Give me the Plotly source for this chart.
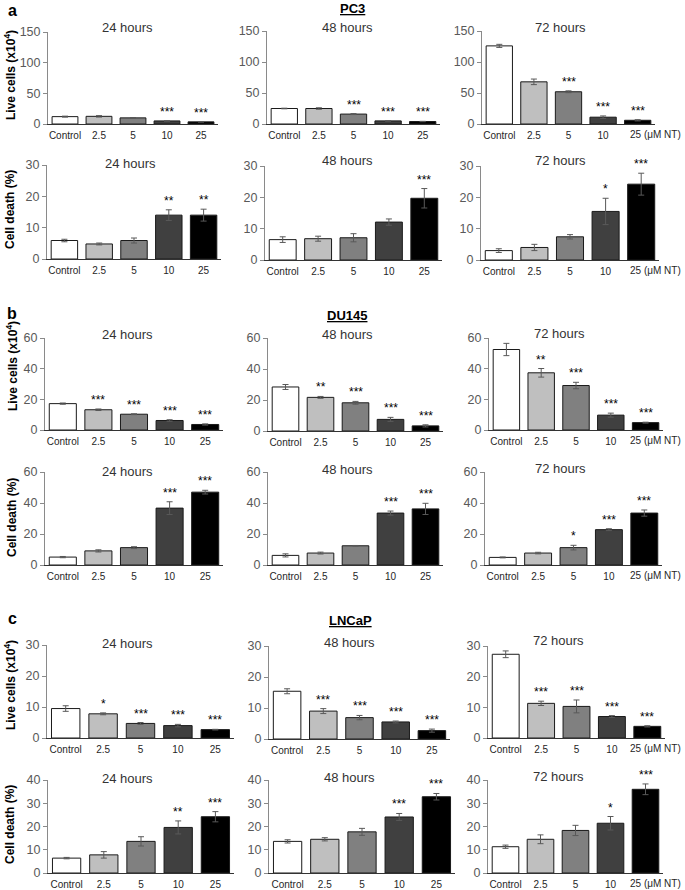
import plotly.graph_objects as go

W, H = 685, 890

categories = ["Control", "2.5", "5", "10", "25"]
bar_colors = ["#ffffff", "#bfbfbf", "#808080", "#404040", "#000000"]

# ---------------- PC3 ----------------
pc3_live_24 = [12, 12.5, 10, 5, 3.5]
pc3_live_24_err = [0.8, 1.2, 0.5, 0.4, 0.4]
pc3_live_24_sig = ["", "", "", "***", "***"]
pc3_live_48 = [25, 25, 16, 5, 4]
pc3_live_48_err = [0.5, 1.2, 0.8, 0.4, 0.3]
pc3_live_48_sig = ["", "", "***", "***", "***"]
pc3_live_72 = [126, 68, 52, 11, 6]
pc3_live_72_err = [2.5, 4.5, 1.5, 2, 1]
pc3_live_72_sig = ["", "", "***", "***", "***"]
pc3_death_24 = [5.9, 4.8, 5.9, 14.0, 14.0]
pc3_death_24_err = [0.4, 0.3, 0.8, 1.7, 1.9]
pc3_death_24_sig = ["", "", "", "**", "**"]
pc3_death_48 = [6.5, 6.8, 7.1, 12.1, 19.7]
pc3_death_48_err = [0.9, 0.8, 1.3, 1.0, 3.1]
pc3_death_48_sig = ["", "", "", "", "***"]
pc3_death_72 = [3.0, 4.0, 7.4, 15.5, 24.2]
pc3_death_72_err = [0.6, 1.0, 0.7, 4.2, 3.5]
pc3_death_72_sig = ["", "", "", "*", "***"]

# ---------------- DU145 ----------------
du145_live_24 = [17.2, 13.2, 10.3, 6.2, 3.6]
du145_live_24_err = [0.4, 0.5, 0.3, 0.5, 0.4]
du145_live_24_sig = ["", "***", "***", "***", "***"]
du145_live_48 = [28.4, 21.7, 18.2, 7.5, 3.3]
du145_live_48_err = [1.6, 0.6, 0.9, 1.3, 0.7]
du145_live_48_sig = ["", "**", "***", "***", "***"]
du145_live_72 = [52.5, 37.3, 29.0, 9.7, 4.8]
du145_live_72_err = [4.0, 2.8, 2.1, 1.3, 0.3]
du145_live_72_sig = ["", "**", "***", "***", "***"]
du145_death_24 = [5.1, 9.1, 11.2, 36.7, 47.0]
du145_death_24_err = [0.4, 0.7, 0.6, 4.1, 1.2]
du145_death_24_sig = ["", "", "", "***", "***"]
du145_death_48 = [6.2, 7.7, 12.4, 33.5, 36.2]
du145_death_48_err = [1.0, 0.6, 0.2, 1.3, 3.6]
du145_death_48_sig = ["", "", "", "***", "***"]
du145_death_72 = [4.9, 7.7, 11.2, 22.8, 33.5]
du145_death_72_err = [0.3, 0.5, 1.5, 0.6, 2.0]
du145_death_72_sig = ["", "", "*", "***", "***"]

# ---------------- LNCaP ----------------
lncap_live_24 = [9.5, 7.8, 4.7, 4.0, 2.7]
lncap_live_24_err = [0.9, 0.3, 0.3, 0.4, 0.1]
lncap_live_24_sig = ["", "*", "***", "***", "***"]
lncap_live_48 = [15.4, 9.0, 6.9, 5.5, 2.7]
lncap_live_48_err = [0.8, 0.8, 0.7, 0.3, 0.5]
lncap_live_48_sig = ["", "***", "***", "***", "***"]
lncap_live_72 = [27.3, 11.3, 10.3, 7.0, 3.8]
lncap_live_72_err = [1.1, 0.7, 2.1, 0.3, 0.2]
lncap_live_72_sig = ["", "***", "***", "***", "***"]
lncap_death_24 = [6.4, 7.8, 13.6, 19.6, 24.2]
lncap_death_24_err = [0.3, 1.4, 2.0, 2.8, 2.2]
lncap_death_24_sig = ["", "", "", "**", "***"]
lncap_death_48 = [13.6, 14.5, 17.7, 24.1, 32.8]
lncap_death_48_err = [0.7, 0.7, 1.5, 1.5, 1.4]
lncap_death_48_sig = ["", "", "", "***", "***"]
lncap_death_72 = [11.3, 14.5, 18.3, 21.4, 36.0]
lncap_death_72_err = [0.7, 1.9, 2.2, 2.9, 2.3]
lncap_death_72_sig = ["", "", "", "*", "***"]

# y-axis tick values
ticks_a_live = [0, 50, 100, 150]
ticks_a_death = [0, 10, 20, 30]
ticks_b = [0, 20, 40, 60]
ticks_c_live = [0, 10, 20, 30]
ticks_c_death = [0, 10, 20, 30, 40]

time_labels = ["24 hours", "48 hours", "72 hours"]
panel_letters = ["a", "b", "c"]
cell_lines = ["PC3", "DU145", "LNCaP"]
last_label_with_unit = "25 (\u03bcM NT)"
live_title = "<b>Live cells (x10<sup>4</sup>)</b>"
death_title = "<b>Cell death (%)</b>"

# subplot list: data, ticks, geometry (left, right, top, bottom in px), column, title position
subplots = [
    (pc3_live_24, pc3_live_24_err, pc3_live_24_sig, ticks_a_live, (48, 218, 32, 124), 0, (128, 28)),
    (pc3_live_48, pc3_live_48_err, pc3_live_48_sig, ticks_a_live, (267, 440, 31, 124), 1, (348, 27)),
    (pc3_live_72, pc3_live_72_err, pc3_live_72_sig, ticks_a_live, (482, 655, 31, 124), 2, (560, 27)),
    (pc3_death_24, pc3_death_24_err, pc3_death_24_sig, ticks_a_death, (47, 221, 165, 259), 0, (130, 163)),
    (pc3_death_48, pc3_death_48_err, pc3_death_48_sig, ticks_a_death, (265, 442, 166, 260), 1, (348, 161)),
    (pc3_death_72, pc3_death_72_err, pc3_death_72_sig, ticks_a_death, (481, 659, 166, 260), 2, (560, 160)),
    (du145_live_24, du145_live_24_err, du145_live_24_sig, ticks_b, (45, 223, 338, 430), 0, (128, 334)),
    (du145_live_48, du145_live_48_err, du145_live_48_sig, ticks_b, (268, 443, 338, 431), 1, (348, 334)),
    (du145_live_72, du145_live_72_err, du145_live_72_sig, ticks_b, (489, 663, 338, 430), 2, (559, 333)),
    (du145_death_24, du145_death_24_err, du145_death_24_sig, ticks_b, (45, 223, 472, 565), 0, (128, 471)),
    (du145_death_48, du145_death_48_err, du145_death_48_sig, ticks_b, (268, 443, 472, 565), 1, (348, 469)),
    (du145_death_72, du145_death_72_err, du145_death_72_sig, ticks_b, (485, 662, 472, 565), 2, (560, 468)),
    (lncap_live_24, lncap_live_24_err, lncap_live_24_sig, ticks_c_live, (47, 234, 645, 738), 0, (128, 643)),
    (lncap_live_48, lncap_live_48_err, lncap_live_48_sig, ticks_c_live, (269, 450, 646, 739), 1, (349, 642)),
    (lncap_live_72, lncap_live_72_err, lncap_live_72_sig, ticks_c_live, (488, 665, 646, 738), 2, (558, 640)),
    (lncap_death_24, lncap_death_24_err, lncap_death_24_sig, ticks_c_death, (48, 234, 780, 873), 0, (128, 778)),
    (lncap_death_48, lncap_death_48_err, lncap_death_48_sig, ticks_c_death, (269, 455, 780, 873), 1, (349, 777)),
    (lncap_death_72, lncap_death_72_err, lncap_death_72_sig, ticks_c_death, (488, 663, 780, 873), 2, (558, 776)),
]

FONT = "Arial, Liberation Sans, sans-serif"
fig = go.Figure()
layout = {}
annotations = []


def px_x(x):
    return x / W


def px_y(y):
    return 1 - y / H


for k, (vals, errs, sigs, ticks, (L, R, T, B), col, (tx, ty)) in enumerate(subplots, start=1):
    xa = "x" if k == 1 else f"x{k}"
    ya = "y" if k == 1 else f"y{k}"
    fig.add_trace(go.Bar(
        x=categories, y=vals,
        error_y=dict(type="data", array=errs, color="#595959", thickness=1, width=3),
        marker=dict(color=bar_colors, line=dict(color="#1a1a1a", width=1)),
        xaxis=xa, yaxis=ya, showlegend=False, hoverinfo="x+y",
    ))
    ticktext = list(categories)
    if col == 2:
        ticktext[-1] = ""  # drawn below as "25 (µM NT)"
    layout["xaxis" if k == 1 else f"xaxis{k}"] = dict(
        domain=[px_x(L), px_x(R)], anchor=ya, type="category",
        categoryorder="array", categoryarray=categories, range=[-0.5, 4.5],
        tickmode="array", tickvals=categories, ticktext=ticktext,
        showline=True, linecolor="#333333", linewidth=1, ticks="",
        tickfont=dict(size=10, color="#262626", family=FONT), showgrid=False,
        zeroline=False, automargin=False, ticklabelstandoff=2,
    )
    layout["yaxis" if k == 1 else f"yaxis{k}"] = dict(
        domain=[px_y(B), px_y(T)], anchor=xa, range=[0, ticks[-1]],
        tickvals=ticks, showline=True, linecolor="#8a8a8a", linewidth=1,
        ticks="outside", ticklen=4, tickcolor="#8a8a8a", showgrid=False,
        zeroline=False, tickfont=dict(size=12.5, color="#595959", family=FONT),
        automargin=False,
    )
    for i, (v, e, s) in enumerate(zip(vals, errs, sigs)):
        if s:
            annotations.append(dict(
                x=i, y=v + e, xref=xa, yref=ya, text=s, showarrow=False,
                yanchor="bottom", xanchor="center",
                font=dict(size=12, color="#000000", family=FONT),
            ))
    if col == 2:
        annotations.append(dict(
            x=px_x(683), y=0, xref="paper", yref=ya, text=last_label_with_unit,
            showarrow=False, xanchor="right", yanchor="top", yshift=-3,
            font=dict(size=10, color="#262626", family=FONT),
        ))
    annotations.append(dict(
        x=px_x(tx), y=px_y(ty), xref="paper", yref="paper", text=time_labels[col],
        showarrow=False, xanchor="center", yanchor="middle",
        font=dict(size=13, color="#333333", family=FONT),
    ))

# panel letters and cell line titles
letter_pos = [(12, 11), (12, 313), (12, 618)]
line_pos = [(353, 8), (347, 315), (350, 620)]
for letter, (lx, ly), name, (nx, ny) in zip(panel_letters, letter_pos, cell_lines, line_pos):
    annotations.append(dict(
        x=px_x(lx), y=px_y(ly), xref="paper", yref="paper", text=f"<b>{letter}</b>",
        showarrow=False, xanchor="center", yanchor="middle",
        font=dict(size=16, color="#000000", family=FONT),
    ))
    annotations.append(dict(
        x=px_x(nx), y=px_y(ny), xref="paper", yref="paper", text=f"<b><u>{name}</u></b>",
        showarrow=False, xanchor="center", yanchor="middle",
        font=dict(size=13, color="#000000", family=FONT),
    ))

# y-axis titles
ytitle_pos = [(10, 75, live_title), (10, 210, death_title),
              (12, 366, live_title), (12, 518, death_title),
              (10, 685, live_title), (10, 825, death_title)]
for (yx, yy, txt) in ytitle_pos:
    annotations.append(dict(
        x=px_x(yx), y=px_y(yy), xref="paper", yref="paper", text=txt,
        showarrow=False, xanchor="center", yanchor="middle", textangle=-90,
        font=dict(size=12, color="#000000", family=FONT),
    ))

fig.update_layout(
    template="none",
    width=W, height=H, margin=dict(l=0, r=0, t=0, b=0, autoexpand=False),
    paper_bgcolor="white", plot_bgcolor="white",
    bargap=0.24, annotations=annotations, font=dict(family=FONT),
    **layout,
)

fig.write_html(
    "out.html",
    config={"displayModeBar": False},
    post_script="document.body.style.margin='0px';document.body.style.padding='0px';document.body.style.overflow='hidden';",
)
